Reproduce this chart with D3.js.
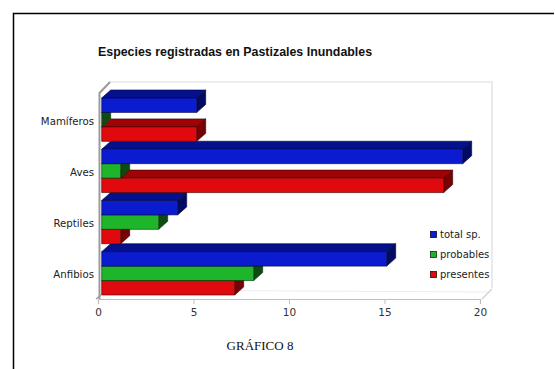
<!DOCTYPE html>
<html>
<head>
<meta charset="utf-8">
<script src="https://cdn.jsdelivr.net/npm/d3@7/dist/d3.min.js"></script>
<style>
  html, body { margin: 0; padding: 0; background: #fff; }
  svg { display: block; }
</style>
</head>
<body>
<svg id="chart" width="555" height="369"></svg>
<script>
// Species counts per animal group
const categories = ["Mamíferos", "Aves", "Reptiles", "Anfibios"];
const seriesNames = ["total sp.", "probables", "presentes"];
const totalSp   = [5, 19, 4, 15];
const probables = [0, 1, 3, 8];
const presentes = [5, 18, 1, 7];
const xTicks = [0, 5, 10, 15, 20];

const seriesValues = [totalSp, probables, presentes];

// front / top / side shades for each series
const shades = {
  "total sp.": { front: "#0b1bd0", top: "#05108c", side: "#020a62", stroke: "#00053a" },
  "probables": { front: "#1fb52a", top: "#15671a", side: "#0e4a12", stroke: "#06300a" },
  "presentes": { front: "#e0090d", top: "#a00306", side: "#760205", stroke: "#3a0002" }
};

const svg = d3.select("#chart");

// outer frame (top and left edges)
svg.append("path")
  .attr("d", "M13.5,369 L13.5,13.5 L554,13.5")
  .attr("fill", "none").attr("stroke", "#000").attr("stroke-width", 1.5);

// title
svg.append("text")
  .attr("x", 98).attr("y", 56)
  .attr("font-family", "'Liberation Sans', Arial, sans-serif")
  .attr("font-weight", "bold").attr("font-size", 12.4)
  .attr("fill", "#111")
  .text("Especies registradas en Pastizales Inundables");

// 3D box geometry
const wallDx = 12, wallDy = 11;
const floorY = 299;
const x = d3.scaleLinear().domain([0, 20]).range([98, 480]);
const xBar = d3.scaleLinear().domain([0, 20]).range([101.7, 481.7]);
const y = d3.scaleBand().domain(categories).range([98, 295]).paddingInner(0.154);
const yInner = d3.scaleBand().domain(seriesNames).range([0, y.bandwidth()]);
const barDx = 9, barDy = 8;

const wallTop = 82;

// back wall and floor outlines
const walls = svg.append("g").attr("fill", "none");
walls.append("path")
  .attr("d", `M${x(0) + wallDx},${wallTop} L${x(20) + wallDx},${wallTop} L${x(20) + wallDx},${floorY - wallDy}`)
  .attr("stroke", "#dcdcdc").attr("stroke-width", 1.2);
walls.append("path")
  .attr("d", `M${x(0) + wallDx},${floorY - wallDy + 2} L${x(20) + wallDx - 4},${floorY - wallDy + 4}`)
  .attr("stroke", "#ececec").attr("stroke-width", 1);
walls.append("path")
  .attr("d", `M${x(20) + 2},${floorY} L${x(20) + wallDx},${floorY - wallDy + 1}`)
  .attr("stroke", "#cfcfcf").attr("stroke-width", 1.2);
// left wall edge
walls.append("path")
  .attr("d", `M${x(0) + 1.5},${floorY} L${x(0) + 1.5},${wallTop + wallDy} L${x(0) + wallDx},${wallTop}`)
  .attr("stroke", "#9a9a9a").attr("stroke-width", 2);
walls.append("path")
  .attr("d", `M${x(0) - 2},${floorY} L${x(0) + 3},${floorY - 4}`)
  .attr("stroke", "#9a9a9a").attr("stroke-width", 1.5);

// value axis
const axis = svg.append("g")
  .attr("transform", `translate(0,${floorY})`)
  .call(d3.axisBottom(x).tickValues(xTicks).tickSize(5).tickPadding(4.5).tickFormat(d3.format("d")));
axis.select(".domain").attr("stroke", "#bdbdbd").attr("stroke-width", 1.2);
axis.selectAll(".tick line").attr("stroke", "#bdbdbd");
axis.selectAll(".tick text")
  .attr("fill", "#333")
  .attr("font-family", "'DejaVu Sans', Verdana, sans-serif")
  .attr("font-size", 10.5);

// category labels
svg.append("g").selectAll("text")
  .data(categories)
  .join("text")
  .attr("x", 94)
  .attr("y", d => y(d) + y.bandwidth() / 2 + 2)
  .attr("text-anchor", "end")
  .attr("dominant-baseline", "middle")
  .attr("font-family", "'DejaVu Sans', Verdana, sans-serif")
  .attr("font-size", 10.2)
  .attr("fill", "#222")
  .text(d => d);

// bars: lower groups and lower bars first so upper fronts hide the tops behind them
const bars = [];
categories.forEach((c, ci) => {
  seriesNames.forEach((s, si) => {
    bars.push({ cat: c, ci, series: s, si, value: seriesValues[si][ci] });
  });
});
bars.sort((a, b) => (b.ci - a.ci) || (b.si - a.si));

const barG = svg.append("g").attr("stroke-linejoin", "round");
bars.forEach(b => {
  const c = shades[b.series];
  const x0 = xBar(0), x1 = xBar(b.value);
  const y0 = y(b.cat) + yInner(b.series);
  const h = yInner.bandwidth();
  const g = barG.append("g").attr("stroke", c.stroke).attr("stroke-width", 0.6);
  // top face
  g.append("path")
    .attr("d", `M${x0},${y0} L${x0 + barDx},${y0 - barDy} L${x1 + barDx},${y0 - barDy} L${x1},${y0} Z`)
    .attr("fill", c.top);
  // side face
  g.append("path")
    .attr("d", `M${x1},${y0} L${x1 + barDx},${y0 - barDy} L${x1 + barDx},${y0 + h - barDy} L${x1},${y0 + h} Z`)
    .attr("fill", c.side);
  // front face
  g.append("rect")
    .attr("x", x0).attr("y", y0)
    .attr("width", x1 - x0).attr("height", h)
    .attr("fill", c.front);
});

// legend
const legend = svg.append("g");
seriesNames.forEach((s, i) => {
  const ly = 235 + i * 20;
  legend.append("rect")
    .attr("x", 430.5).attr("y", ly - 3.5)
    .attr("width", 6).attr("height", 6)
    .attr("fill", shades[s].front)
    .attr("stroke", shades[s].stroke).attr("stroke-width", 0.8);
  legend.append("text")
    .attr("x", 440).attr("y", ly)
    .attr("dominant-baseline", "middle")
    .attr("font-family", "'DejaVu Sans', Verdana, sans-serif")
    .attr("font-size", 10)
    .attr("fill", "#222")
    .text(s);
});

// caption
svg.append("text")
  .attr("x", 260).attr("y", 350)
  .attr("text-anchor", "middle")
  .attr("font-family", "'Liberation Serif', 'Times New Roman', serif")
  .attr("font-size", 13)
  .attr("fill", "#111")
  .text("GRÁFICO 8");
</script>
</body>
</html>
